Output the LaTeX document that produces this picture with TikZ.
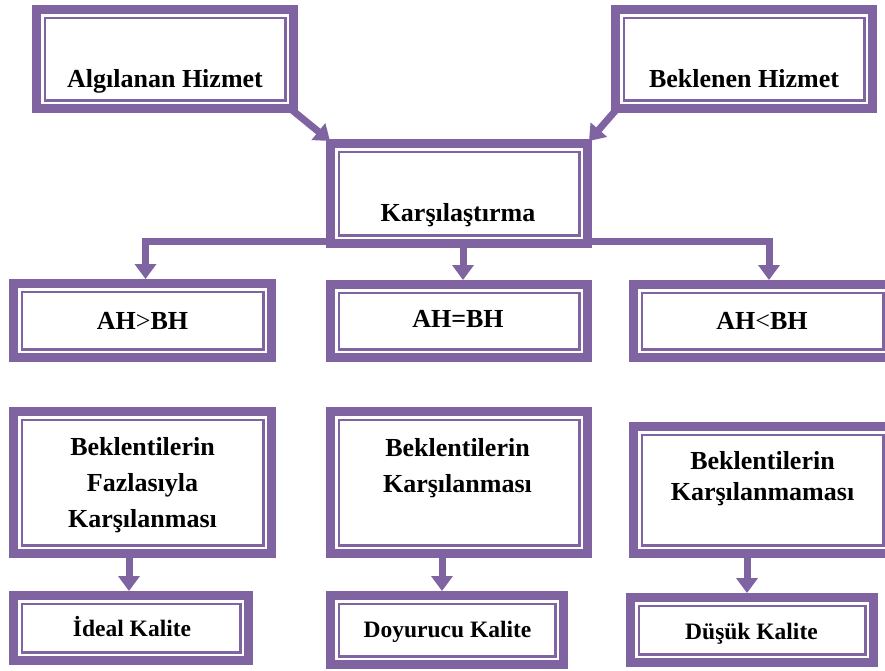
\documentclass[tikz,border=0pt]{standalone}
\usepackage{fontspec}
\setmainfont{Liberation Serif}
\usetikzlibrary{arrows.meta,calc,backgrounds}
\definecolor{pur}{RGB}{128,100,162}
\begin{document}
\begin{tikzpicture}[x=1pt,y=-1pt,
  box/.style={draw=pur, line width=9pt, fill=white, rectangle, inner sep=0pt, outer sep=4.5pt},
  conn/.style={draw=pur, line width=7pt},
  tip/.tip={Triangle[width=21pt,length=15pt]},
  arr/.style={conn, -tip},
  lbl/.style={font=\bfseries\fontsize{26}{36}\selectfont, align=center, anchor=base, inner sep=0pt},
  slbl/.style={lbl, font=\bfseries\fontsize{23.5}{30}\selectfont}]
\useasboundingbox (0,0) rectangle (885,670);

% boxes with a thick outer and a thin inner frame
\node[box, minimum width=257pt, minimum height=99pt]  (A)  at (165,59) {};
\node[box, minimum width=257pt, minimum height=99pt]  (B)  at (744,59) {};
\node[box, minimum width=257pt, minimum height=100pt] (K)  at (459,193.5) {};
\node[box, minimum width=258pt, minimum height=74pt]  (gt) at (142.5,320.5) {};
\node[box, minimum width=257pt, minimum height=73pt]  (eq) at (459,321) {};
\node[box, minimum width=258pt, minimum height=73pt]  (lt) at (762.5,321) {};
\node[box, minimum width=258pt, minimum height=142pt] (L1) at (142.5,482.5) {};
\node[box, minimum width=257pt, minimum height=142pt] (M1) at (459,482.5) {};
\node[box, minimum width=258pt, minimum height=127pt] (R1) at (762.5,490) {};
\node[box, minimum width=235pt, minimum height=65pt]  (Id) at (131,628) {};
\node[box, minimum width=233pt, minimum height=69pt]  (Dy) at (447,630) {};
\node[box, minimum width=243pt, minimum height=65pt]  (Ds) at (752,630) {};

\foreach \n in {A,B,K,gt,eq,lt,L1,M1,R1,Id,Dy,Ds}
  \draw[pur, line width=2.2pt] ($(\n.south west)+(12.6pt,12.6pt)$) rectangle ($(\n.north east)-(12.6pt,12.6pt)$);

% labels (multi-line labels are placed by their last baseline)
\node[lbl] (At)  at (165,87)    {Algılanan Hizmet};
\node[lbl] (Bt)  at (744,87)    {Beklenen Hizmet};
\node[lbl] (Kt)  at (458,221)   {Karşılaştırma};
\node[lbl] (gtt) at (142.5,329) {AH{\mdseries >}BH};
\node[lbl] (eqt) at (458,327)   {AH=BH};
\node[lbl] (ltt) at (762,329)   {AH{\mdseries <}BH};
\node[lbl] (L1t) at (142.5,527) {Beklentilerin\\Fazlasıyla\\Karşılanması};
\node[lbl] (M1t) at (457.5,492) {Beklentilerin\\Karşılanması};
\node[lbl, font=\bfseries\fontsize{26}{31}\selectfont] (R1t) at (762.5,500) {Beklentilerin\\Karşılanmaması};
\node[slbl] (Idt) at (132,636)   {İdeal Kalite};
\node[slbl] (Dyt) at (447.5,637) {Doyurucu Kalite};
\node[slbl] (Dst) at (751.5,639) {Düşük Kalite};

% connectors behind the boxes
\begin{scope}[on background layer]
  \fill[white] (0,0) rectangle (885,670);
  \coordinate (busL) at (145.5,241);
  \coordinate (busM) at (463,241);
  \coordinate (busR) at (769,241);
  \draw[conn, tip-tip] (busL |- gt.north) -- (busL) -- (busR) -- (busR |- lt.north);
  \draw[arr] (K.south -| busM) -- (busM |- eq.north);
  \draw[arr] ([shift={(-6pt,3pt)}]A.south east) -- ([shift={(4pt,-2pt)}]K.north west);
  \draw[arr] ([shift={(5pt,3pt)}]B.south west) -- ([shift={(-3pt,-2pt)}]K.north east);
  \draw[arr] ($(L1.south -| Id.north)+(-2pt,0)$) -- ($(Id.north)+(-2pt,0)$);
  \draw[arr] ($(M1.south -| Dy.north)+(-5pt,0)$) -- ($(Dy.north)+(-5pt,0)$);
  \draw[arr] ($(R1.south -| Ds.north)+(-5pt,0)$) -- ($(Ds.north)+(-5pt,0)$);
\end{scope}
\end{tikzpicture}
\end{document}
